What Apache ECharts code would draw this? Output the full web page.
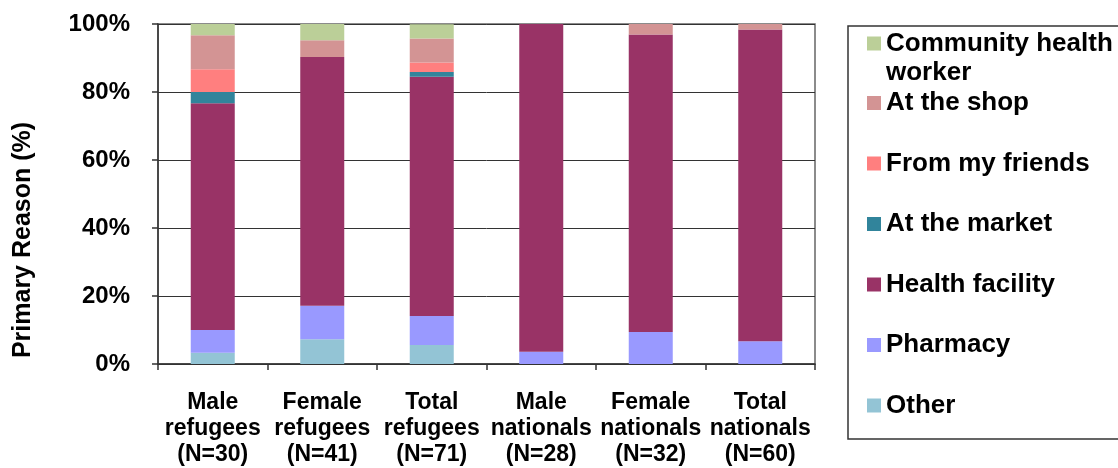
<!DOCTYPE html>
<html>
<head>
<meta charset="utf-8">
<script src="https://cdn.jsdelivr.net/npm/echarts@6/dist/echarts.min.js"></script>
<style>
  html, body { margin: 0; padding: 0; background: #fff; }
  #main { width: 1118px; height: 468px; }
</style>
</head>
<body>
<div id="main"></div>
<script>
// groups on the x axis
var categories = ['Male\nrefugees\n(N=30)', 'Female\nrefugees\n(N=41)', 'Total\nrefugees\n(N=71)',
                  'Male\nnationals\n(N=28)', 'Female\nnationals\n(N=32)', 'Total\nnationals\n(N=60)'];

// share of respondents (%), stacked bottom to top
var other     = [3.3, 7.3, 5.6, 0, 0, 0];
var pharmacy  = [6.7, 9.8, 8.5, 3.6, 9.4, 6.7];
var health    = [66.7, 73.2, 70.4, 96.4, 87.5, 91.7];
var market    = [3.3, 0, 1.4, 0, 0, 0];
var friends   = [6.7, 0, 2.8, 0, 0, 0];
var shop      = [10.0, 4.9, 7.0, 0, 3.1, 1.7];
var community = [3.3, 4.9, 4.2, 0, 0, 0];

var yTicks = [0, 20, 40, 60, 80, 100];

var FONT = "'Liberation Sans', Arial, sans-serif";

function bar(name, data, color) {
    return {
        name: name,
        type: 'bar',
        stack: 'all',
        barWidth: 44,
        data: data,
        itemStyle: { color: color },
        emphasis: { disabled: true }
    };
}

var legendText = { fontFamily: FONT, fontSize: 26, fontWeight: 'bold', color: '#000' };

var option = {
    animation: false,
    textStyle: { fontFamily: FONT },
    grid: {
        left: 158,
        right: 303,
        top: 24,
        bottom: 104,
        show: true,
        borderColor: '#666',
        borderWidth: 1.5
    },
    legend: [{
        // first entry wraps on two lines, marker sits on the first line
        orient: 'vertical',
        left: 867,
        top: 0,
        padding: 0,
        icon: 'rect',
        itemWidth: 14,
        itemHeight: 14,
        selectedMode: false,
        formatter: function() { return '{s| }\n{t|Community health}\n{t|worker}'; },
        textStyle: {
            fontFamily: FONT, fontSize: 26, fontWeight: 'bold', color: '#000', lineHeight: 29,
            rich: {
                s: { fontSize: 26, lineHeight: 29 },
                t: { fontFamily: FONT, fontSize: 26, fontWeight: 'bold', color: '#000', lineHeight: 29 }
            }
        },
        data: ['Community health worker']
    }, {
        orient: 'vertical',
        left: 862,
        top: 85,
        icon: 'rect',
        itemWidth: 14,
        itemHeight: 14,
        itemGap: 34.5,
        selectedMode: false,
        textStyle: Object.assign({ lineHeight: 24 }, legendText),
        data: ['At the shop', 'From my friends', 'At the market', 'Health facility', 'Pharmacy', 'Other']
    }],
    graphic: [{
        type: 'rect',
        shape: { x: 848, y: 26, width: 300, height: 413 },
        style: { fill: 'none', stroke: '#333', lineWidth: 1.5 },
        z: 0
    }],
    xAxis: {
        type: 'category',
        data: categories,
        axisLine: { lineStyle: { color: '#333', width: 1.5 } },
        axisTick: { show: true, length: 6, lineStyle: { color: '#333', width: 1.5 } },
        axisLabel: {
            margin: 26,
            fontFamily: FONT, fontSize: 23, fontWeight: 'bold', color: '#000',
            lineHeight: 26, interval: 0
        }
    },
    yAxis: {
        type: 'value',
        min: yTicks[0],
        max: yTicks[yTicks.length - 1],
        interval: 20,
        name: 'Primary Reason (%)',
        nameLocation: 'middle',
        nameGap: 122,
        nameTextStyle: {
            fontFamily: FONT, fontSize: 25, fontWeight: 'bold', color: '#000',
            padding: [0, 92, 0, 0]
        },
        axisLine: { show: true, lineStyle: { color: '#333', width: 1.5 } },
        axisTick: { show: true, length: 6, lineStyle: { color: '#333', width: 1.5 } },
        axisLabel: {
            margin: 28,
            formatter: '{value}%',
            fontFamily: FONT, fontSize: 24, fontWeight: 'bold', color: '#000'
        },
        splitLine: { show: true, lineStyle: { color: '#333', width: 1 } }
    },
    series: [
        bar('Other', other, '#93C4D5'),
        bar('Pharmacy', pharmacy, '#9999FF'),
        bar('Health facility', health, '#993366'),
        bar('At the market', market, '#31849B'),
        bar('From my friends', friends, '#FF7F7F'),
        bar('At the shop', shop, '#D39494'),
        bar('Community health worker', community, '#BBCF98')
    ]
};

var myChart = echarts.init(document.getElementById('main'));
myChart.setOption(option);
</script>
</body>
</html>
